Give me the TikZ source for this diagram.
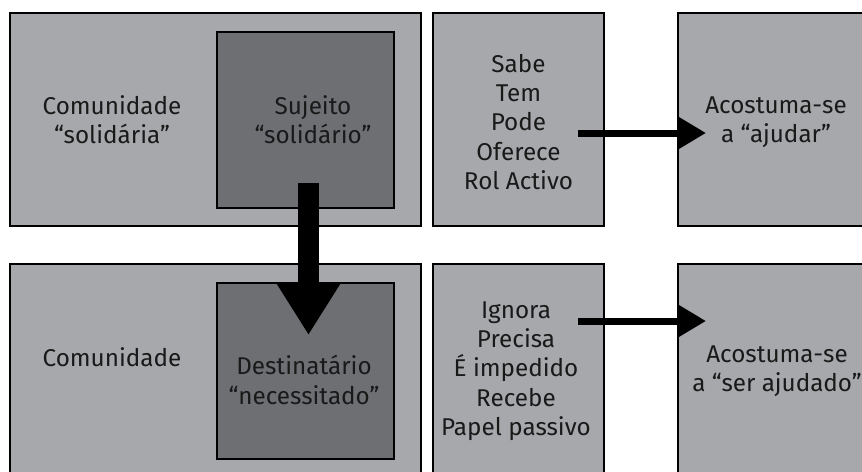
\documentclass[tikz,border=0pt]{standalone}
\usepackage{fontspec}
\setmainfont{Fira Sans}
\usetikzlibrary{arrows.meta}
\definecolor{lightbox}{HTML}{A7A8AB}
\definecolor{darkbox}{HTML}{6D6F73}
\begin{document}
\begin{tikzpicture}[x=0.75pt,y=-0.75pt,
  box/.style={draw=black, line width=1.1pt, fill=lightbox, anchor=north west, inner sep=0pt, outer sep=0pt},
  inbox/.style={box, fill=darkbox},
  lbl/.style={align=center, font=\fontsize{18.2}{22}\selectfont, inner sep=0pt, text=black!90},
  thinarrow/.style={line width=5.25pt, -{Triangle[length=21pt,width=23.25pt]}},
  bigarrow/.style={line width=15.75pt, -{Triangle[length=39.75pt,width=46.5pt]}}]
\useasboundingbox (0,0) rectangle (862,471);
\clip (0,0) rectangle (862,471);
% boxes
\node[box, minimum width=308.25pt, minimum height=159.75pt] (tlo) at (10,13) {};
\node[inbox, minimum width=132.75pt, minimum height=132pt] (tli) at (217,32) {};
\node[box, minimum width=308.25pt, minimum height=172.5pt] (blo) at (10,264) {};
\node[inbox, minimum width=132.75pt, minimum height=132pt] (bli) at (217,283) {};
\node[box, minimum width=128.25pt, minimum height=159.75pt] (ta) at (433,13) {};
\node[box, minimum width=150pt, minimum height=159.75pt] (tb) at (678,13) {};
\node[box, minimum width=128.25pt, minimum height=172.5pt] (ba) at (433,264) {};
\node[box, minimum width=150pt, minimum height=172.5pt] (bb) at (678,264) {};
% labels
\node[lbl] (t1) at (112,120) {Comunidade\\“solidária”};
\node[lbl] (t2) at (313,120) {Sujeito\\“solidário”};
\node[lbl] (t3) at (518.5,122) {Sabe\\Tem\\Pode\\Oferece\\Rol Activo};
\node[lbl] (t4) at (776,122) {Acostuma-se\\a “ajudar”};
\node[lbl] (t5) at (112,357) {Comunidade};
\node[lbl] (t6) at (304,380) {Destinatário\\“necessitado”};
\node[lbl] (t7) at (516,371) {Ignora\\Precisa\\É impedido\\Recebe\\Papel passivo};
\node[lbl] (t8) at (777,371) {Acostuma-se\\a “ser ajudado”};
% arrows
\coordinate (a1s) at (578,133);
\coordinate (a1e) at (706,133);
\coordinate (a2s) at (578,321);
\coordinate (a2e) at (706,321);
\coordinate (a3s) at (308.5,183);
\coordinate (a3e) at (308.5,335);
\draw[thinarrow] (a1s) -- (a1e);
\draw[thinarrow] (a2s) -- (a2e);
\draw[bigarrow] (a3s) -- (a3e);
\end{tikzpicture}
\end{document}
